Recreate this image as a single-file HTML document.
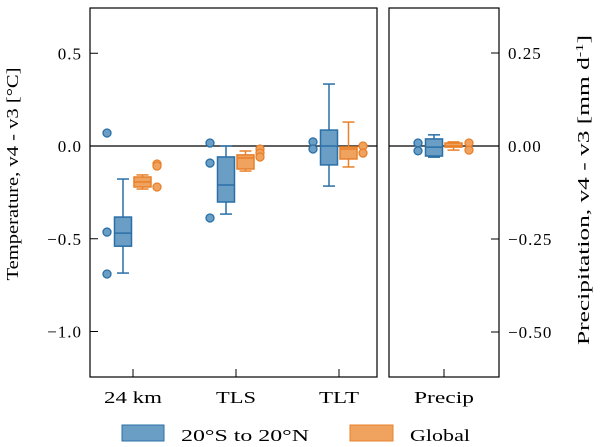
<!DOCTYPE html>
<html><head><meta charset="utf-8"><style>
body{margin:0;background:#fff}
svg{display:block;font-family:"Liberation Serif",serif}
</style></head><body>
<svg id="chart" width="600" height="447" viewBox="0 0 600 447">
<g id="marks"></g>
<rect x="90" y="8" width="287" height="369" fill="none" stroke="#000" stroke-width="1.2"/>
<rect x="389" y="8" width="110" height="369" fill="none" stroke="#000" stroke-width="1.2"/>
<g id="axes" font-size="17" letter-spacing="1"></g>
<text x="18" y="174" font-size="17" text-anchor="middle" textLength="213" lengthAdjust="spacingAndGlyphs" transform="rotate(-90 18 174)">Temperature, v4 - v3 [°C]</text>
<text x="589" y="190" font-size="17" text-anchor="middle" textLength="310" lengthAdjust="spacingAndGlyphs" transform="rotate(-90 589 190)">Precipitation, v4 - v3 [mm d<tspan dy="-6" font-size="11">-1</tspan><tspan dy="6">]</tspan></text>
<g font-size="17">
<rect x="122" y="425" width="42" height="16" fill="#6a9ec5" stroke="#2a6fa6"/>
<text x="181" y="441" textLength="128" lengthAdjust="spacingAndGlyphs">20°S to 20°N</text>
<rect x="350" y="425" width="43" height="16" fill="#f0a35e" stroke="#e8802a"/>
<text x="410" y="441" textLength="60" lengthAdjust="spacingAndGlyphs">Global</text>
</g>
</svg>
<script>
// data
const categories = ["24 km","TLS","TLT"];
// [whiskerLow, q1, median, q3, whiskerHigh]
const tropicsStats = [[-0.685,-0.54,-0.47,-0.383,-0.178],[-0.367,-0.302,-0.21,-0.059,0.0],[-0.216,-0.102,0.0,0.086,0.334]];
const globalStats = [[-0.232,-0.221,-0.194,-0.167,-0.156],[-0.135,-0.124,-0.065,-0.048,-0.027],[-0.113,-0.07,-0.016,-0.005,0.129]];
const tropicsOutliers = [[0.07,-0.464,-0.69],[0.016,-0.092,-0.388],[0.022,-0.016]];
const globalOutliers = [[-0.097,-0.108,-0.221],[-0.016,-0.038,-0.059],[0.0,-0.038]];
const precipTropicsStats = [-0.03,-0.027,-0.003,0.019,0.03];
const precipGlobalStats = [-0.011,-0.003,0.0,0.008,0.011];
const precipTropicsOutliers = [0.008,-0.013];
const precipGlobalOutliers = [0.008,-0.011];
const leftTicks = [0.5,0.0,-0.5,-1.0];
const leftTickLabels = ["0.5","0.0","\u22120.5","\u22121.0"];
const rightTicks = [0.25,0.0,-0.25,-0.5];
const rightTickLabels = ["0.25","0.00","\u22120.25","\u22120.50"];

const NS="http://www.w3.org/2000/svg";
const yL = v => 146 - v*185.5;
const yR = v => 146 - v*372;
const xL = i => 133 + i*103;
const xR = () => 444;
const marks=document.getElementById('marks'), axes=document.getElementById('axes');
function mk(tag,attrs,parent){const e=document.createElementNS(NS,tag);for(const k in attrs)e.setAttribute(k,attrs[k]);parent.appendChild(e);return e;}
const BLUE={fill:"#6a9ec5",stroke:"#2a6fa6"}, ORANGE={fill:"#f0a35e",stroke:"#e8802a"};

function box(cx,s,y,col,name){
  const g=mk('g',{},marks);
  
  
  const w=17,c=12;
  mk('line',{x1:cx,x2:cx,y1:y(s[0]),y2:y(s[1]),stroke:col.stroke,'stroke-width':1.5},g);
  mk('line',{x1:cx,x2:cx,y1:y(s[3]),y2:y(s[4]),stroke:col.stroke,'stroke-width':1.5},g);
  mk('line',{x1:cx-c/2,x2:cx+c/2,y1:y(s[0]),y2:y(s[0]),stroke:col.stroke,'stroke-width':1.5},g);
  mk('line',{x1:cx-c/2,x2:cx+c/2,y1:y(s[4]),y2:y(s[4]),stroke:col.stroke,'stroke-width':1.5},g);
  mk('rect',{x:cx-w/2,y:y(s[3]),width:w,height:Math.max(1,y(s[1])-y(s[3])),fill:col.fill,stroke:col.stroke,'stroke-width':1.5},g);
  mk('line',{x1:cx-w/2,x2:cx+w/2,y1:y(s[2]),y2:y(s[2]),stroke:col.stroke,'stroke-width':1.5},g);
}
function outl(cx,vals,y,col,name){
  vals.forEach(v=>{const c=mk('circle',{cx:cx,cy:y(v),r:4,fill:col.fill,stroke:col.stroke,'stroke-width':1.3},marks);
  
  });
}
mk('line',{x1:90,x2:377,y1:yL(0),y2:yL(0),stroke:'#000','stroke-width':1.3},marks);
mk('line',{x1:389,x2:499,y1:yR(0),y2:yR(0),stroke:'#000','stroke-width':1.3},marks);
const labelWidths = [58,40,40];
categories.forEach((cat,i)=>{
  const c=xL(i);
  outl(c-26,tropicsOutliers[i],yL,BLUE,'outlier-tropics');
  outl(c+24,globalOutliers[i],yL,ORANGE,'outlier-global');
  box(c-10,tropicsStats[i],yL,BLUE,'box-tropics-'+i);
  box(c+9.5,globalStats[i],yL,ORANGE,'box-global-'+i);
  mk('line',{x1:c,x2:c,y1:377,y2:369,stroke:'#000','stroke-width':1},axes);
  const t=mk('text',{x:c-labelWidths[i]/2,y:403,textLength:labelWidths[i],lengthAdjust:'spacingAndGlyphs','letter-spacing':0},axes);t.textContent=cat;
  
  
});
{
  const c=xR();
  outl(c-26,precipTropicsOutliers,yR,BLUE,'outlier-precip-tropics');
  outl(c+25,precipGlobalOutliers,yR,ORANGE,'outlier-precip-global');
  box(c-10,precipTropicsStats,yR,BLUE,'box-precip-tropics');
  box(c+9.5,precipGlobalStats,yR,ORANGE,'box-precip-global');
  mk('line',{x1:c,x2:c,y1:377,y2:369,stroke:'#000','stroke-width':1},axes);
  const t=mk('text',{x:c-30,y:403,textLength:60,lengthAdjust:'spacingAndGlyphs','letter-spacing':0},axes);t.textContent="Precip";
  
  
}
leftTicks.forEach((v,i)=>{
  mk('line',{x1:90,x2:98,y1:yL(v),y2:yL(v),stroke:'#000','stroke-width':1},axes);
  const t=mk('text',{x:82,y:yL(v)+6,'text-anchor':'end'},axes);t.textContent=leftTickLabels[i];
  
  
});
rightTicks.forEach((v,i)=>{
  mk('line',{x1:491,x2:499,y1:yR(v),y2:yR(v),stroke:'#000','stroke-width':1},axes);
  const t=mk('text',{x:508,y:yR(v)+6,'text-anchor':'start'},axes);t.textContent=rightTickLabels[i];
  
  
});
</script>
</body></html>
